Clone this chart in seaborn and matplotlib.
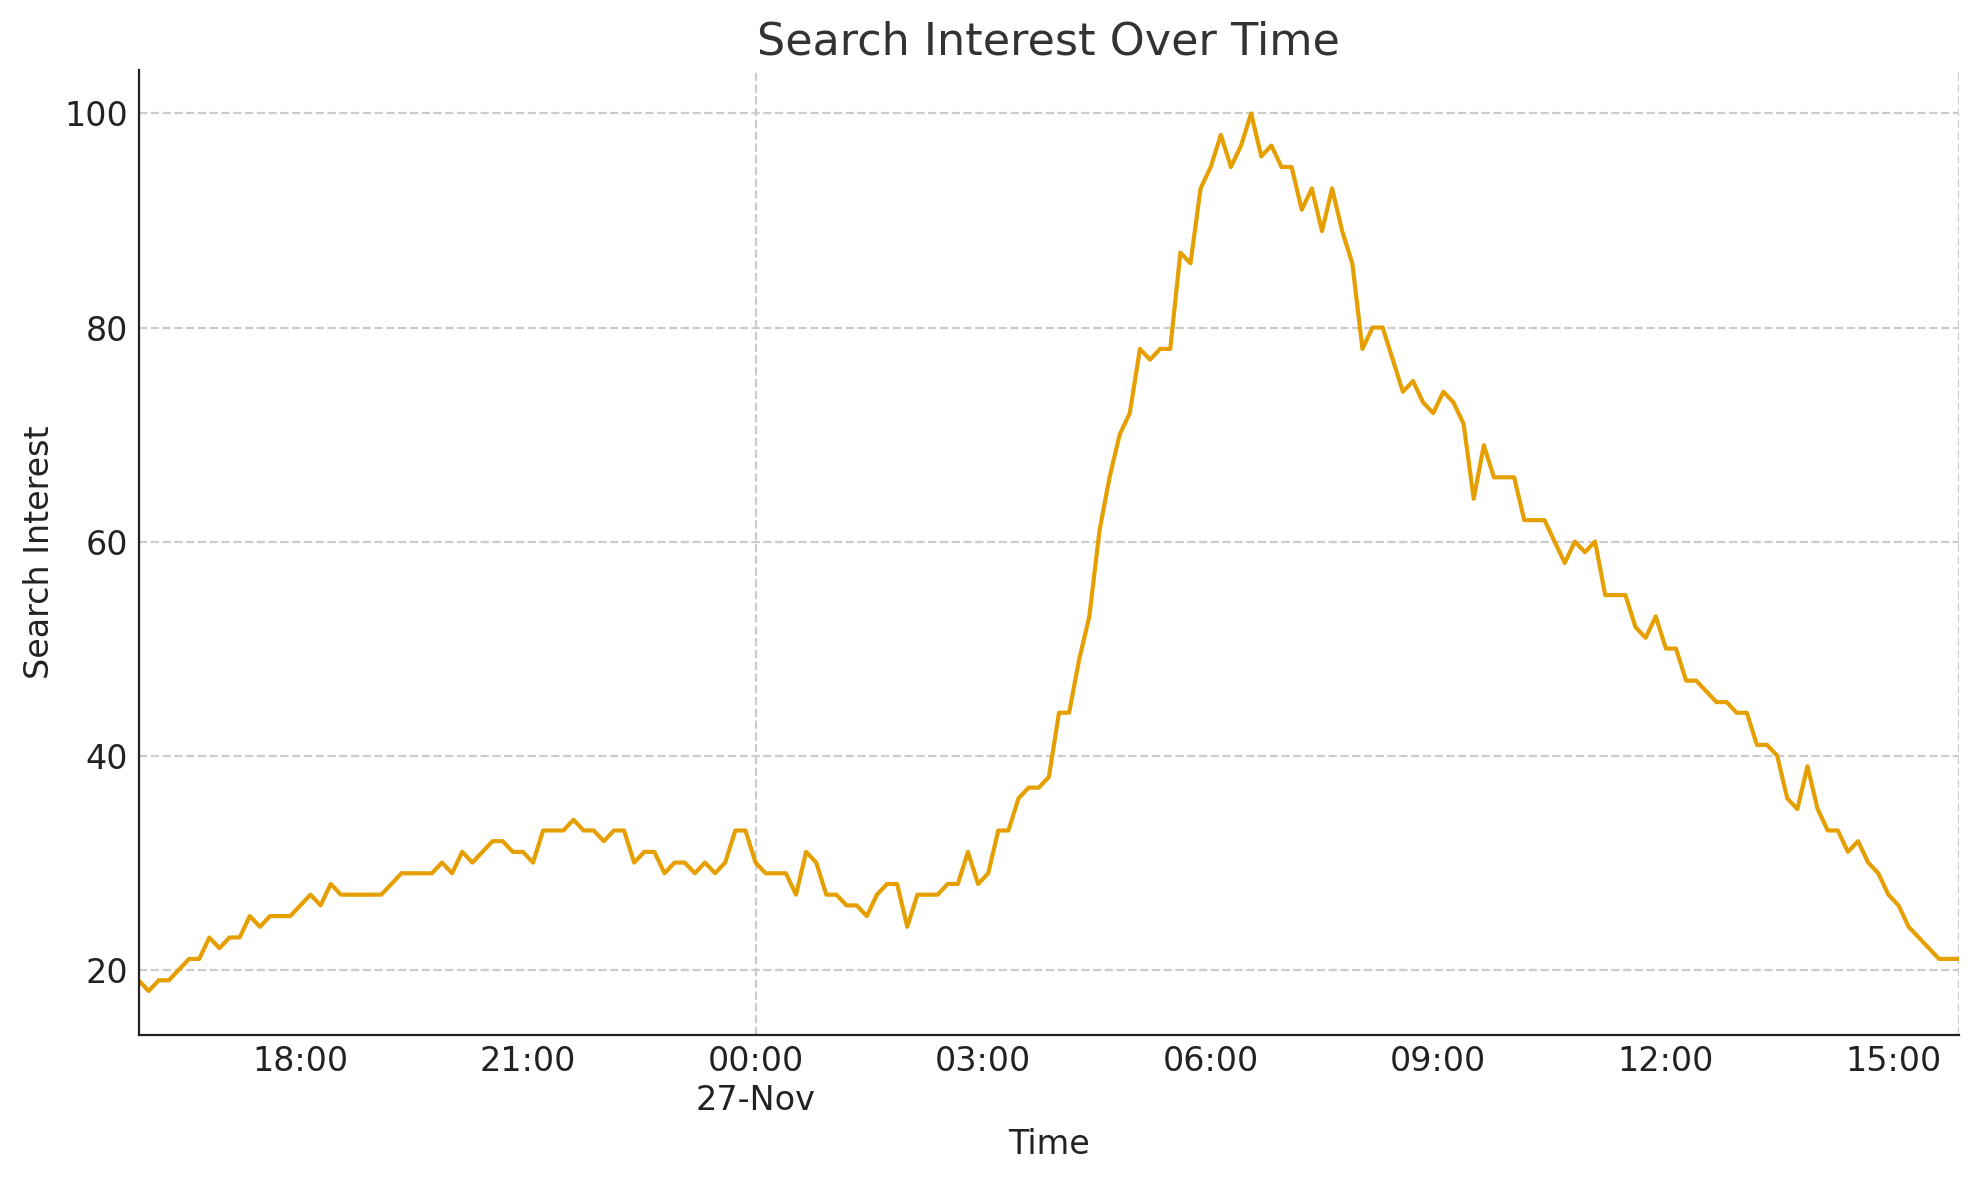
import pandas as pd
import matplotlib
matplotlib.use("Agg")
import matplotlib.pyplot as plt
import matplotlib.dates as mdates
from matplotlib.ticker import FixedLocator, FuncFormatter
import seaborn as sns

# === Datos: interés de búsqueda cada 8 minutos (26-Nov 15:52 -> 27-Nov 15:52) ===
start_time = "2023-11-26 15:52"
step = "8min"
search_interest = [
    19, 18, 19, 19, 20, 21, 21, 23, 22, 23, 23, 25, 24, 25, 25, 25, 26, 27, 26, 28,
    27, 27, 27, 27, 27, 28, 29, 29, 29, 29, 30, 29, 31, 30, 31, 32, 32, 31, 31, 30,
    33, 33, 33, 34, 33, 33, 32, 33, 33, 30, 31, 31, 29, 30, 30, 29, 30, 29, 30, 33,
    33, 30, 29, 29, 29, 27, 31, 30, 27, 27, 26, 26, 25, 27, 28, 28, 24, 27, 27, 27,
    28, 28, 31, 28, 29, 33, 33, 36, 37, 37, 38, 44, 44, 49, 53, 61, 66, 70, 72, 78,
    77, 78, 78, 87, 86, 93, 95, 98, 95, 97, 100, 96, 97, 95, 95, 91, 93, 89, 93, 89,
    86, 78, 80, 80, 77, 74, 75, 73, 72, 74, 73, 71, 64, 69, 66, 66, 66, 62, 62, 62,
    60, 58, 60, 59, 60, 55, 55, 55, 52, 51, 53, 50, 50, 47, 47, 46, 45, 45, 44, 44,
    41, 41, 40, 36, 35, 39, 35, 33, 33, 31, 32, 30, 29, 27, 26, 24, 23, 22, 21, 21,
    21,
]

df = pd.DataFrame({
    "Time": pd.date_range(start_time, periods=len(search_interest), freq=step),
    "Search Interest": search_interest,
})

# === Estilo ===
sns.set_style("white")
plt.rcParams["font.family"] = ["DejaVu Sans"]

fig = plt.figure(figsize=(1979 / 200, 1180 / 200), dpi=200)
ax = fig.add_axes([0.070, 0.123, 0.920, 0.818])

sns.lineplot(data=df, x="Time", y="Search Interest", color="#E69F00", linewidth=1.5, ax=ax)

ax.set_xlim(df["Time"].iloc[0], df["Time"].iloc[-1])

# Ticks: menores cada 3 horas, mayores en el cambio de día y al final
midnight = df["Time"].dt.normalize().iloc[-1]
major_locs = [mdates.date2num(midnight), mdates.date2num(df["Time"].iloc[-1])]
ax.xaxis.set_major_locator(FixedLocator(major_locs))
ax.xaxis.set_major_formatter(FuncFormatter(
    lambda v, pos: mdates.num2date(v).strftime("%H:%M\n%d-%b") if pos == 0 else ""))
ax.xaxis.set_minor_locator(mdates.HourLocator(byhour=range(0, 24, 3)))
ax.xaxis.set_minor_formatter(mdates.DateFormatter("%H:%M"))

ax.tick_params(axis="both", which="both", labelsize=12, colors="#222222", direction="out")
ax.tick_params(axis="both", which="major", length=3.8, width=0.8, pad=0.0)
ax.tick_params(axis="x", which="minor", length=2.2, width=0.8, pad=1.4)

ax.grid(True, which="major", linestyle="--", color="#cccccc", linewidth=0.8)
sns.despine(ax=ax)
for s in ["left", "bottom"]:
    ax.spines[s].set_color("#222222")
    ax.spines[s].set_linewidth(0.8)

ax.set_title("Search Interest Over Time", fontsize=16, color="#333333", pad=5.5)
ax.set_xlabel("Time", fontsize=12, color="#222222", labelpad=4)
ax.set_ylabel("Search Interest", fontsize=12, color="#222222", labelpad=3)

fig.savefig("out.png", dpi=200)
